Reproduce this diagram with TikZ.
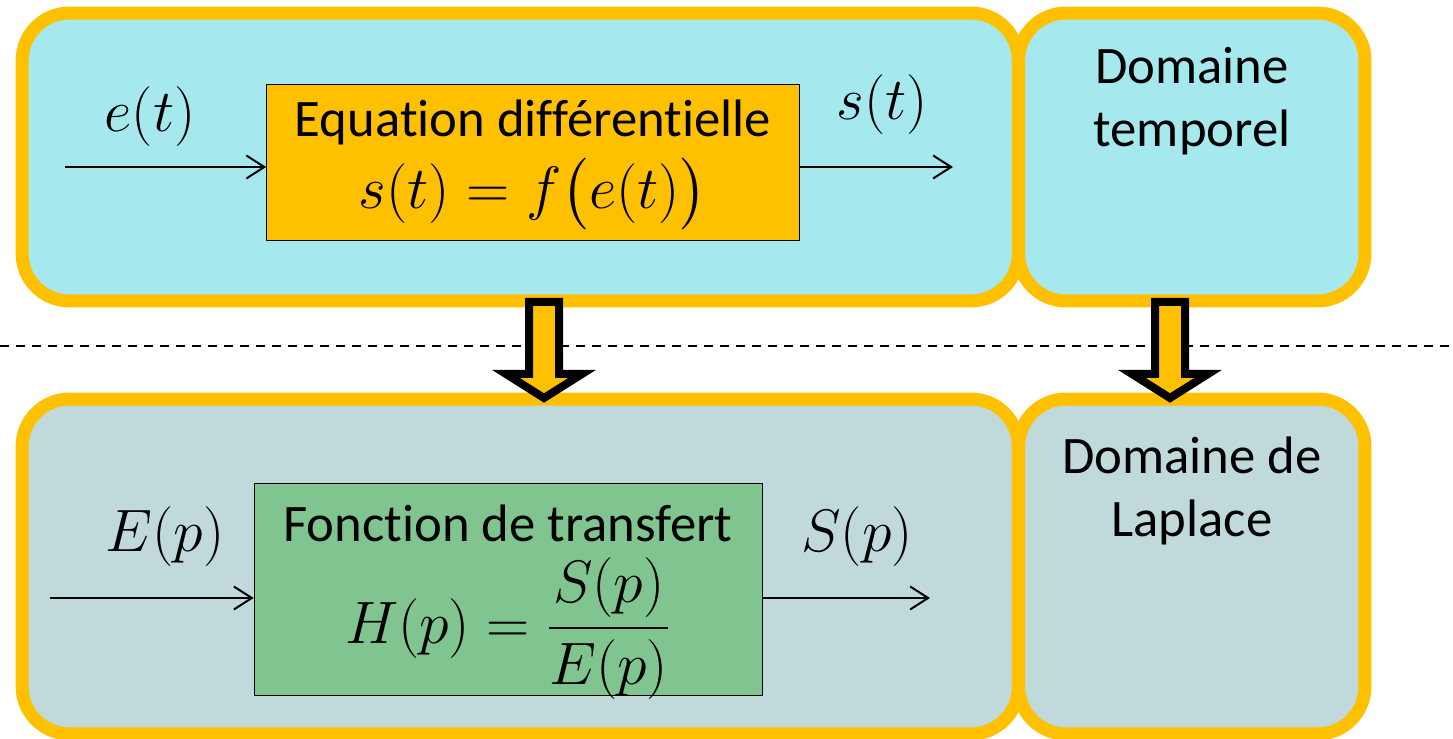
\documentclass[tikz,border=0pt]{standalone}
\usepackage{amsmath}
\usepackage{graphicx}
\usepackage{fontspec}
\setmainfont[Ligatures=NoCommon]{Carlito}
\usetikzlibrary{arrows.meta,positioning}
\definecolor{amber}{HTML}{FFC000}
\definecolor{skyfill}{HTML}{A5E9EE}
\definecolor{greyfill}{HTML}{C0DADB}
\definecolor{leaf}{HTML}{80C490}
\newcommand\bigmath[1]{\scalebox{1.37}{\fontsize{24.88}{30}\selectfont$#1$}}

\begin{document}
\begin{tikzpicture}[
  x=0.02cm,y=-0.02cm,
  font=\fontsize{30}{36}\selectfont,
  zone/.style={draw=amber,line width=0.26cm,rounded corners=0.95cm,
               minimum height=5.76cm,inner sep=0pt},
  block/.style={draw=black,thin,inner sep=0pt},
  signal/.style={-{Straight Barb[length=3.6mm,width=4.6mm]},line width=0.04cm},
  bigarrow/.style={draw=black,line width=0.16cm,fill=amber,line join=miter},
  caption/.style={align=center,inner sep=0pt}
]
\useasboundingbox (0,0) rectangle (1453,739);

% time domain
\node[zone,fill=skyfill,minimum width=19.93cm] (timebox) at (520.25,157) {};
\node[zone,fill=skyfill,minimum width=6.93cm] (timeside) at (1191.75,157) {};
% Laplace domain
\node[zone,fill=greyfill,minimum width=19.93cm,minimum height=6.70cm]
  (lapbox) at (520.25,566.5) {};
\node[zone,fill=greyfill,minimum width=6.93cm,minimum height=6.70cm]
  (lapside) at (1191.75,566.5) {};

\node[caption] (timetext) at (1192,101) {Domaine\\temporel};
\node[caption] (laptext) at (1192,491) {Domaine de\\Laplace};

\draw[line width=0.04cm,dash pattern=on 0.18cm off 0.14cm] (0,346) -- (1453,346);

\foreach \cx in {544,1170}
  \draw[bigarrow] (\cx-15,302) -- (\cx+15,302) -- (\cx+15,374) -- (\cx+38,374)
    -- (\cx,398) -- (\cx-38,374) -- (\cx-15,374) -- cycle;

% differential equation
\node[block,fill=amber,minimum width=10.66cm,minimum height=3.12cm] (eqbox)
  at (533,162) {};
\node[caption] (eqtext) at (533,165)
  {Equation différentielle\\[5pt]\bigmath{s(t)=f\bigl(e(t)\bigr)}};
\coordinate (ein) at (65,167);
\coordinate (sout) at (953,167);
\draw[signal] (ein) -- (ein -| eqbox.west);
\draw[signal] (sout -| eqbox.east) -- (sout);
\node (etlabel) at (150,117) {\bigmath{e(t)}};
\node (stlabel) at (882,105) {\bigmath{s(t)}};

% transfer function
\node[block,fill=leaf,minimum width=10.16cm,minimum height=4.24cm] (hbox)
  at (508,589) {};
\node[caption] (htext) at (508,602)
  {Fonction de transfert\\[8pt]\bigmath{H(p)=\dfrac{S(p)}{E(p)}}};
\coordinate (Ein) at (50,598);
\coordinate (Sout) at (930,598);
\draw[signal] (Ein) -- (Ein -| hbox.west);
\draw[signal] (Sout -| hbox.east) -- (Sout);
\node (Eplabel) at (165,537) {\bigmath{E(p)}};
\node (Splabel) at (857,537) {\bigmath{S(p)}};
\end{tikzpicture}
\end{document}
